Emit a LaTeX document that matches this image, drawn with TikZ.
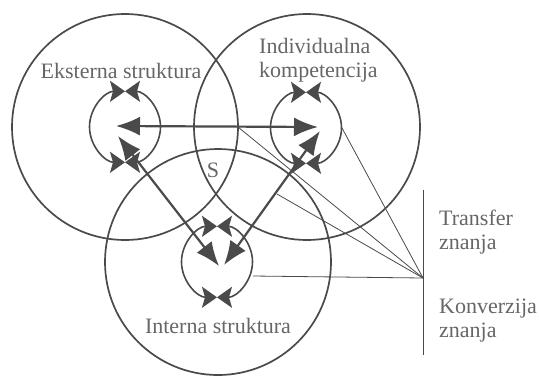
\documentclass[tikz,border=0pt]{standalone}
\usepackage{fontspec}
\setmainfont{Liberation Serif}
\usetikzlibrary{arrows.meta}
\definecolor{ln}{HTML}{4A4A4A}
\definecolor{tx}{HTML}{666666}
\begin{document}
\begin{tikzpicture}[x=1pt,y=-1pt,
  big/.style={circle,draw=ln,line width=1.7pt,minimum size=226pt,inner sep=0pt},
  small/.style={circle,minimum size=71pt,inner sep=0pt},
  bow/.style={draw=ln,line width=1.6pt,{Stealth[length=15pt,width=21pt,inset=3pt]}-{Stealth[length=15pt,width=21pt,inset=3pt]}},
  mainarrow/.style={draw=ln,line width=2.2pt,{Latex[length=24pt,width=19pt]}-{Latex[length=24pt,width=19pt]}},
  thin/.style={draw=ln,line width=0.8pt},
  lbl/.style={text=tx,font=\fontsize{22}{24}\selectfont,inner sep=0pt}]
\useasboundingbox (0,0) rectangle (539,376);

% big circles
\node[big] (C1) at (125,127) {};
\node[big] (C2) at (307,127) {};
\node[big] (C3) at (218,262) {};

% small circles (invisible anchors) and their bow-tie arcs
\node[small] (s1) at (125,127) {};
\node[small] (s2) at (306,128) {};
\node[small] (s3) at (217,262) {};
\foreach \c in {s1,s2,s3}{
  \draw[bow] (\c.north) arc[start angle=90,end angle=270,radius=35.5pt];
  \draw[bow] (\c.north) arc[start angle=90,end angle=-90,radius=35.5pt];
}

% arrow end points
\coordinate (h1) at (116,126);
\coordinate (h2) at (318,127);
\coordinate (d1a) at (118,136);
\coordinate (d1b) at (219,266);
\coordinate (d2a) at (224,265);
\coordinate (d2b) at (320,131);

\draw[mainarrow] (h1) -- (h2);
\draw[mainarrow] (d1a) -- (d1b);
\draw[mainarrow] (d2a) -- (d2b);

% thin lines
\coordinate (conv) at (423,278);
\coordinate (vtop) at (423,190);
\coordinate (vbot) at (423,355);
\coordinate (t1) at (342,128);
\coordinate (t2) at (238,127);
\coordinate (t3) at (277,194);
\coordinate (t4) at (253,276);
\draw[thin] (vtop) -- (vbot);
\draw[thin] (t1) -- (conv);
\draw[thin] (t2) -- (conv);
\draw[thin] (t3) -- (conv);
\draw[thin] (t4) -- (conv);

% labels
\node[lbl] (eks) at (121,71) {Eksterna struktura};
\node[lbl,align=left,anchor=north west] (ind) at (259,38) {Individualna\\kompetencija};
\node[lbl] (S) at (213,170) {S};
\node[lbl] (int) at (218,326) {Interna struktura};
\node[lbl,align=left,anchor=north west] (tr) at (439,210) {Transfer\\znanja};
\node[lbl,align=left,anchor=north west] (ko) at (439,299) {Konverzija\\znanja};
\end{tikzpicture}
\end{document}
